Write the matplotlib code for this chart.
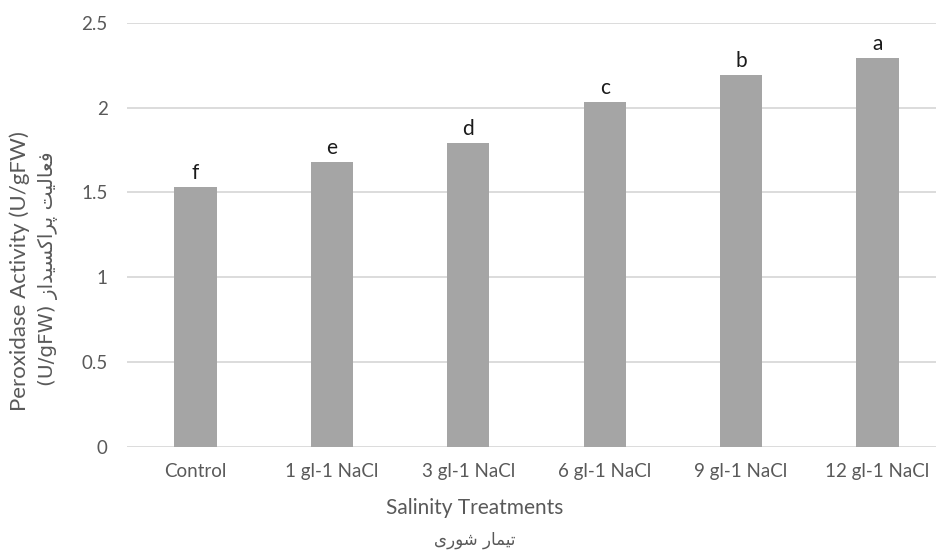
import matplotlib.pyplot as plt

# peroxidase activity per salinity level
treatments = ["Control", "1 gl-1 NaCl", "3 gl-1 NaCl", "6 gl-1 NaCl", "9 gl-1 NaCl", "12 gl-1 NaCl"]
activity = [1.53, 1.68, 1.79, 2.03, 2.19, 2.29]
groups = ["f", "e", "d", "c", "b", "a"]
y_ticks = [0, 0.5, 1, 1.5, 2, 2.5]
y_tick_labels = ["0", "0.5", "1", "1.5", "2", "2.5"]

# Persian titles, already shaped (presentation forms) and in visual order
fa_xlabel = "\uFEEF\uFEAD\uFEEE\uFEB7 \uFEAD\uFE8E\uFEE4\uFEF4\uFE97"
fa_ylabel = ("(U/gFW) "
             "\uFEAF\uFE8D\uFEAA\uFEF4\uFEB4\uFB90\uFE8D\uFEAE\uFB58 "
             "\uFE96\uFEF4\uFEDF\uFE8E\uFECC\uFED3")

plt.rcParams['font.family'] = ['Lato', 'DejaVu Sans']

fig = plt.figure(figsize=(9.36, 5.54), dpi=100)
ax = fig.add_axes([0.136, 0.1937, 0.8744, 0.7653])

x = range(len(treatments))
bars = ax.bar(x, activity, width=0.31, color="#a5a5a5", zorder=3)

for i, (v, g) in enumerate(zip(activity, groups)):
    ax.text(i, v + 0.025, g, ha="center", va="bottom", fontsize=15, color="#1a1a1a")

ax.set_xlim(-0.5, len(treatments) - 0.5)
ax.set_ylim(0, 2.5)
ax.set_yticks(y_ticks)
ax.set_yticklabels(y_tick_labels)
ax.set_xticks(list(x))
ax.set_xticklabels(treatments)
ax.tick_params(axis="both", length=0, labelsize=13.5, labelcolor="#595959")
ax.tick_params(axis="y", pad=14)
ax.tick_params(axis="x", pad=12)

ax.grid(axis="y", color="#d9d9d9", linewidth=1.3, zorder=0)
for s in ["top", "right", "left", "bottom"]:
    ax.spines[s].set_visible(False)

fig.text(0.507, 0.083, "Salinity Treatments", ha="center", va="center",
         fontsize=15, color="#595959")
fig.text(0.507, 0.025, fa_xlabel, ha="center", va="center",
         fontsize=12, color="#595959", family=["DejaVu Sans"])
fig.text(0.021, 0.51, "Peroxidase Activity (U/gFW)", rotation=90,
         ha="center", va="center", fontsize=16, color="#595959")
fig.text(0.051, 0.515, fa_ylabel, rotation=90, ha="center", va="center",
         fontsize=14.5, color="#595959", family=["DejaVu Sans"])

fig.savefig("out.png", dpi=100)
